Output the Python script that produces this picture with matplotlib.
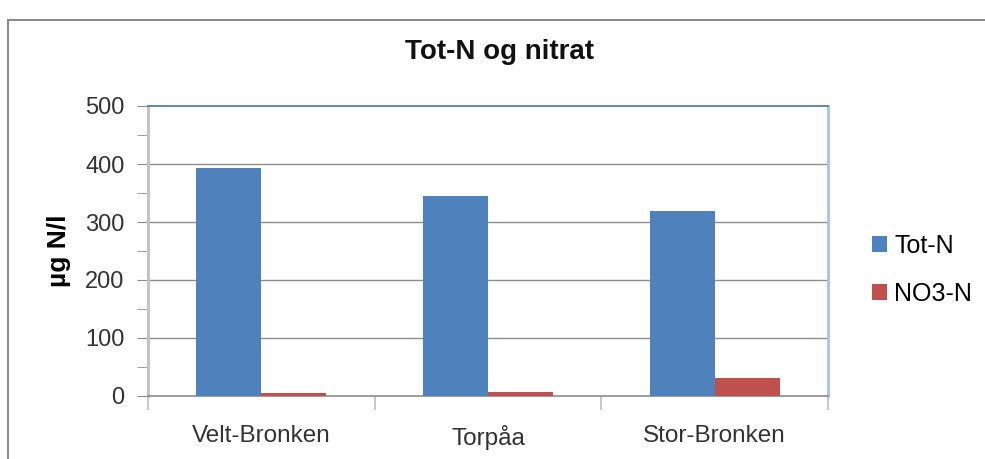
import matplotlib.pyplot as plt
import numpy as np
from matplotlib.patches import Rectangle

plt.rcParams['font.family'] = ['Liberation Sans', 'DejaVu Sans']

stations = ["Velt-Bronken", "Torpåa", "Stor-Bronken"]
tot_n = [393, 345, 319]
no3_n = [5, 7, 31]
series_labels = ["Tot-N", "NO3-N"]
y_ticks = [0, 100, 200, 300, 400, 500]

fig = plt.figure(figsize=(9.85, 4.59), dpi=100)

# outer chart border
fig.patches.append(Rectangle((8 / 985, -0.1), 1.2, 1 - 20 / 459 + 0.1,
                             transform=fig.transFigure, fill=False,
                             edgecolor="#8c8c8c", lw=1.5))

ax = fig.add_axes([148 / 985, 1 - 396 / 459, 680 / 985, 290 / 459])

x = np.arange(len(stations))
w = 0.287
ax.bar(x - w / 2, tot_n, w, color="#4F81BD", label=series_labels[0], zorder=3)
ax.bar(x + w / 2, no3_n, w, color="#C0504D", label=series_labels[1], zorder=3)

ax.set_xlim(-0.5, 2.5)
ax.set_ylim(0, 500)
ax.set_yticks(y_ticks)
ax.set_yticks(np.arange(50, 500, 100), minor=True)
ax.set_xticks(x)
ax.set_xticklabels(stations, fontsize=17.5, color="#333333")
ax.set_xticks([-0.5, 0.5, 1.5, 2.5], minor=True)
ax.tick_params(axis="x", which="major", length=0, pad=21)
ax.tick_params(axis="x", which="minor", length=10, color="#bfbfbf", width=1.2)
ax.tick_params(axis="y", which="both", length=8, color="#8c8c8c", labelsize=17,
               labelcolor="#333333", pad=9)

for v in y_ticks[1:-1]:
    ax.axhline(v, color="#8c8c8c", lw=1, zorder=1)

for s in ["top", "right", "left", "bottom"]:
    ax.spines[s].set_visible(True)
ax.spines["top"].set_color("#4a72a8")
ax.spines["top"].set_linewidth(1.2)
ax.spines["right"].set_color("#a9c2e0")
ax.spines["right"].set_linewidth(2)
ax.spines["left"].set_color("#c4c4c4")
ax.spines["left"].set_linewidth(2.2)
ax.spines["bottom"].set_color("#8c8c8c")
ax.spines["bottom"].set_linewidth(1.2)

ax.set_ylabel("µg N/l", fontsize=19, fontweight="bold")
ax.yaxis.set_label_coords((71 - 148) / 680, 0.5)

fig.text(500 / 985, 1 - 52 / 459, "Tot-N og nitrat", ha="center", va="center",
         fontsize=20, fontweight="bold", color="#111111")

ax.legend(loc="center left", bbox_to_anchor=(862 / 985, 1 - 270 / 459),
          bbox_transform=fig.transFigure, frameon=False, fontsize=18,
          handlelength=0.6, handleheight=0.6, handletextpad=0.3,
          labelspacing=0.95, borderaxespad=0)

fig.savefig("out.png", dpi=100)
